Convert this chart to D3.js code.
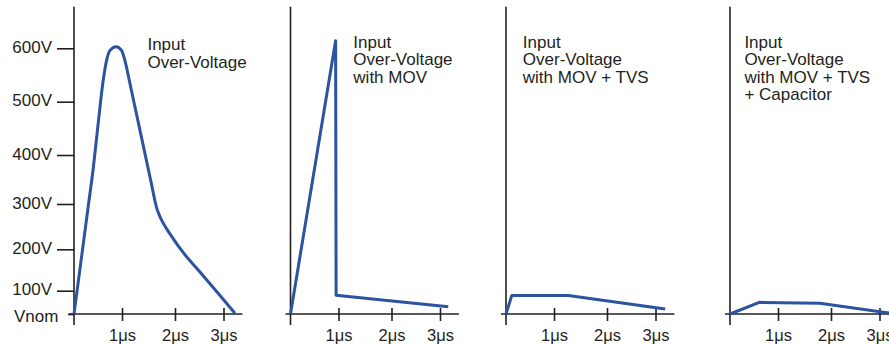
<!DOCTYPE html>
<html><head><meta charset="utf-8">
<script src="https://cdn.jsdelivr.net/npm/d3@7"></script>
<style>
html,body{margin:0;padding:0;background:#fff;}
svg{display:block;font-family:"Liberation Sans",Arial,Helvetica,sans-serif;}
</style></head><body>
<svg id="chart" width="889" height="344"></svg>
<script>
// ---- data ----
const timeTicks = [1, 2, 3];
const timeTickLabels = ["1μs", "2μs", "3μs"];
const voltTicks = [0, 100, 200, 300, 400, 500, 600];
const voltTickLabels = ["Vnom", "100V", "200V", "300V", "400V", "500V", "600V"];
const panelTitles = [
  ["Input", "Over-Voltage"],
  ["Input", "Over-Voltage", "with MOV"],
  ["Input", "Over-Voltage", "with MOV + TVS"],
  ["Input", "Over-Voltage", "with MOV + TVS", "+ Capacitor"]
];
const titleAtTime = [1.48, 1.28, 0.35, 0.30];   // μs where each title starts

// time in μs, voltage in V
const timeRaw = [0, 0.31, 0.40, 0.50, 0.61, 0.68, 0.75, 0.875, 0.99, 1.06, 1.15, 1.54, 1.655, 1.736, 1.849, 1.981, 2.144, 2.515, 2.928, 3.237];
const voltRaw = [0, 305, 372, 456, 541, 578, 596, 603, 596, 575, 534, 349, 291, 267, 244, 221, 196, 145, 79, 3];
const timeMOV = [0, 0.94, 0.95, 3.17];
const voltMOV = [0, 614, 80, 31];
const timeTVS = [0, 0.12, 1.27, 3.2];
const voltTVS = [0, 79, 79, 21];
const timeCap = [0, 0.61, 1.79, 3.2];
const voltCap = [0, 50, 46, 4];

const series = [
  {t: timeRaw, v: voltRaw},
  {t: timeMOV, v: voltMOV},
  {t: timeTVS, v: voltTVS},
  {t: timeCap, v: voltCap}
];
const voltMax = 678;   // top of the vertical axes
const timeMax = 3.39;  // right end of the time axes

// ---- layout ----
const svg = d3.select("#chart");
const ink = "#231f20";
const lineColor = "#2b53a0";
const origins = [74, 290.5, 506, 730];

const y = d3.scaleLinear()
  .domain(voltTicks)
  .range([314, 290.7, 249.3, 204, 155, 101.7, 48.3]);

origins.forEach((o, p) => {
  const x = d3.scaleLinear().domain([0, 1, 2, 3]).range([o, o + 48, o + 101, o + 149.5]);
  const g = svg.append("g");

  // x axis
  const xa = g.append("g").attr("transform", `translate(0,${y(0)})`)
    .call(d3.axisBottom(x).tickValues(timeTicks).tickFormat((d, i) => timeTickLabels[i]));
  xa.select(".domain").remove();
  xa.selectAll(".tick line").attr("y1", -6).attr("y2", 7).attr("stroke", ink).attr("stroke-width", 1.6);
  xa.selectAll(".tick text").attr("y", 15.5).attr("fill", ink)
    .style("font-size", "16.5px").style("font-family", '"Liberation Sans",Arial,sans-serif');
  g.append("line")
    .attr("x1", x(0) - 5).attr("x2", x(timeMax))
    .attr("y1", y(0)).attr("y2", y(0))
    .attr("stroke", ink).attr("stroke-width", 1.6);

  // y axis
  if (p === 0) {
    const ya = g.append("g").attr("transform", `translate(${x(0)},0)`)
      .call(d3.axisLeft(y).tickValues(voltTicks).tickFormat((d, i) => voltTickLabels[i])
        .tickSize(17).tickPadding(5));
    ya.select(".domain").remove();
    ya.selectAll(".tick line").attr("stroke", ink).attr("stroke-width", 1.6);
    ya.selectAll(".tick text").attr("fill", ink).attr("dy", "0.25em")
      .style("font-size", "17px").style("font-family", '"Liberation Sans",Arial,sans-serif');
    ya.selectAll(".tick").filter(d => d === 0).select("line").attr("x2", -6);
    ya.selectAll(".tick").filter(d => d === 0).select("text").attr("x", -15.7).attr("dy", "0.45em");
  }
  g.append("line")
    .attr("x1", x(0)).attr("x2", x(0))
    .attr("y1", y(voltMax)).attr("y2", y(0) + 11)
    .attr("stroke", ink).attr("stroke-width", 1.6);

  // series line
  const s = series[p];
  const pts = s.t.map((t, i) => [t, s.v[i]]);
  g.append("path")
    .datum(pts)
    .attr("fill", "none")
    .attr("stroke", lineColor)
    .attr("stroke-width", 3)
    .attr("stroke-linejoin", "round")
    .attr("d", d3.line().x(d => x(d[0])).y(d => y(d[1])).curve(p === 0 ? d3.curveMonotoneX : d3.curveLinear));

  // title
  const tt = g.append("text")
    .attr("x", x(titleAtTime[p]))
    .attr("y", p === 0 ? 50 : 47.5)
    .attr("fill", ink)
    .style("font-size", "17px");
  panelTitles[p].forEach((line, i) => {
    tt.append("tspan").attr("x", x(titleAtTime[p])).attr("dy", i === 0 ? 0 : 17.5).text(line);
  });
});
</script>
</body></html>
